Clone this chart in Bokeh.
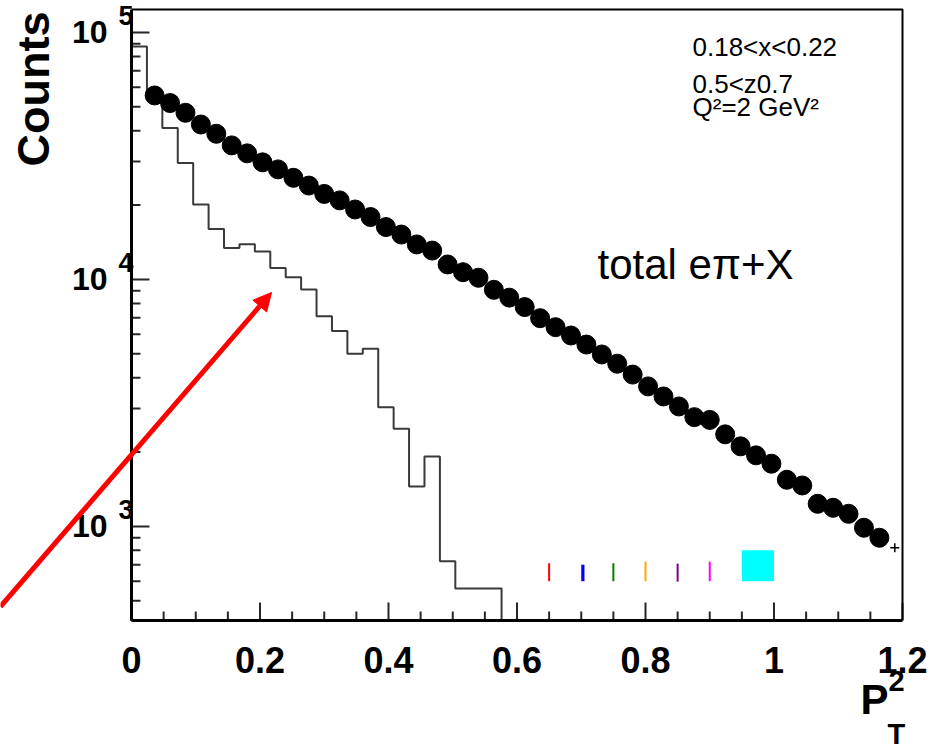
import math
import numpy as np
from bokeh.plotting import figure
from bokeh.models import Arrow, NormalHead, Range1d
from bokeh.core.properties import value
from bokeh.embed import file_html
from bokeh.resources import INLINE

# ---------------- data ----------------
bin_edges = np.round(np.linspace(0.0, 1.2, 51), 4)          # 50 bins of 0.024
hist_counts = [87700, 55000, 41000, 29600, 20100, 16000, 13400, 13900,
               12970, 11120, 10210, 9110, 7100, 6180, 5000, 5240,
               3040, 2487, 1452, 1920, 723, 560, 560, 560]   # later bins empty
point_bins = list(range(1, 49))
point_counts = [55600, 51800, 47300, 42400, 38900, 34900, 32400, 29800,
                27900, 25800, 24000, 22200, 20900, 19200, 17900, 16300,
                15200, 13860, 13090, 11500, 10700, 10160, 9080, 8440,
                7730, 6970, 6410, 5930, 5450, 4970, 4560, 4120,
                3690, 3360, 3060, 2770, 2700, 2360, 2110, 1940,
                1795, 1545, 1465, 1235, 1190, 1125, 988, 900]
last_bin = 49
last_count = 820

x_major = [0.0, 0.2, 0.4, 0.6, 0.8, 1.0, 1.2]
x_labels = ["0", "0.2", "0.4", "0.6", "0.8", "1", "1.2"]
x_minor = [0.05, 0.1, 0.15, 0.25, 0.3, 0.35, 0.45, 0.5, 0.55, 0.65, 0.7, 0.75,
           0.85, 0.9, 0.95, 1.05, 1.1, 1.15]
y_major = [1e3, 1e4, 1e5]
y_minor = [500, 600, 700, 800, 900, 2000, 3000, 4000, 5000, 6000, 7000, 8000,
           9000, 20000, 30000, 40000, 50000, 60000, 70000, 80000, 90000]

info_lines = ["0.18<x<0.22", "0.5<z0.7", "Q²=2 GeV²"]
main_label = "total eπ+X"

X_MIN, X_MAX = 0.0, 1.2
Y_MIN, Y_MAX = 416, 123900
W, H = 941, 752
LEFT, RIGHT, TOP, BOTTOM = 131, 902, 9, 620

FONT = value("Liberation Sans")

xs_per_px = (X_MAX - X_MIN) / (RIGHT - LEFT)
dec_per_px = (math.log10(Y_MAX) - math.log10(Y_MIN)) / (BOTTOM - TOP)
x_lo = X_MIN - LEFT * xs_per_px
x_hi = X_MAX + (W - RIGHT) * xs_per_px
y_lo = 10 ** (math.log10(Y_MIN) - (H - BOTTOM) * dec_per_px)
y_hi = 10 ** (math.log10(Y_MAX) + TOP * dec_per_px)


def base(offset_px, size_px):
    return offset_px - 0.42 * size_px


def up(y, n_px):
    return y * 10 ** (n_px * dec_per_px)


def shift_x(x, n_px):
    return x + n_px * xs_per_px


p = figure(width=W, height=H, y_axis_type="log",
           x_range=Range1d(x_lo, x_hi), y_range=Range1d(y_lo, y_hi),
           x_axis_location=None, y_axis_location=None,
           output_backend="svg", toolbar_location=None,
           min_border_left=0, min_border_right=0,
           min_border_top=0, min_border_bottom=0)
p.title.visible = False
p.xgrid.visible = False
p.ygrid.visible = False
p.outline_line_color = None
p.background_fill_color = "white"
p.border_fill_color = "white"

# ---------------- diagnostics (temporary) ----------------
p.quad(left=[shift_x(0.65, -1)], right=[shift_x(0.65, 1)], bottom=[600],
       top=[up(600, 18)], fill_color="red", line_color=None)
p.quad(left=[0.70], right=[0.705], bottom=[600], top=[700], fill_color="blue",
       line_color=None)
p.segment(x0=[0.75], y0=[600], x1=[0.75], y1=[up(600, 18)], line_color="green",
          line_width=2)
p.segment(x0=[0.80], y0=[600], x1=[0.80], y1=[720], line_color="orange", line_width=2)
p.scatter(x=[0.85], y=[650], marker="dash", size=18, angle=math.pi / 2,
          line_color="purple", line_width=2)
p.line([0.9, 0.9], [600, 720], line_color="magenta", line_width=2)
p.quad(left=[0.95], right=[1.0], bottom=[600], top=[800], fill_color="cyan",
       line_color=None)

# ---------------- ticks ----------------
tick_col = "#262626"
for ticks, n_px in ((x_major, 18), (x_minor, 9)):
    p.quad(left=[shift_x(t, -1) for t in ticks], right=[shift_x(t, 1) for t in ticks],
           bottom=[Y_MIN] * len(ticks), top=[up(Y_MIN, n_px)] * len(ticks),
           fill_color=tick_col, line_color=None)
for ticks, n_px in ((y_major, 18), (y_minor, 9)):
    p.quad(left=[X_MIN] * len(ticks), right=[shift_x(X_MIN, n_px)] * len(ticks),
           bottom=[up(t, -1) for t in ticks], top=[up(t, 1) for t in ticks],
           fill_color=tick_col, line_color=None)

# ---------------- histogram ----------------
hx = [bin_edges[0]]
hy = [Y_MIN]
for i, c in enumerate(hist_counts):
    hx += [bin_edges[i], bin_edges[i + 1]]
    hy += [c, c]
hx.append(bin_edges[len(hist_counts)])
hy.append(Y_MIN)
p.line(hx, hy, line_color="#3a3a3a", line_width=2)

# ---------------- points ----------------
centers = (bin_edges[:-1] + bin_edges[1:]) / 2
px = [float(centers[b]) for b in point_bins]
p.scatter(px, point_counts, size=19, fill_color="black", line_color="black")
p.scatter([float(centers[last_bin])], [last_count], marker="cross", size=9,
          line_color="black", line_width=1.5)

# ---------------- box ----------------
p.line([X_MIN, X_MAX], [Y_MIN, Y_MIN], line_color="black", line_width=3)
p.line([X_MIN, X_MIN], [Y_MIN, Y_MAX], line_color="black", line_width=3)
p.line([X_MIN, X_MAX, X_MAX], [Y_MAX, Y_MAX, Y_MIN], line_color="black", line_width=2)

# ---------------- labels ----------------
p.text(x=x_major, y=[Y_MIN] * len(x_major), text=x_labels,
       text_align="center", text_baseline="alphabetic", y_offset=base(55, 36),
       text_font=FONT, text_font_style="bold", text_font_size="36px",
       text_color="black")
p.text(x=[X_MIN] * len(y_major), y=y_major, text=["10"] * len(y_major),
       text_align="right", text_baseline="alphabetic", x_offset=-24,
       y_offset=base(13, 32),
       text_font=FONT, text_font_style="bold", text_font_size="32px",
       text_color="black")
p.text(x=[X_MIN] * len(y_major), y=y_major,
       text=[str(int(round(math.log10(t)))) for t in y_major],
       text_align="left", text_baseline="alphabetic", x_offset=-13,
       y_offset=base(-6, 27),
       text_font=FONT, text_font_style="bold", text_font_size="27px",
       text_color="black")
p.text(x=[X_MIN], y=[Y_MAX], text=["Counts"], angle=math.pi / 2,
       text_align="right", text_baseline="alphabetic", x_offset=-79 - 0.42 * 45,
       y_offset=2, text_font=FONT, text_font_style="bold", text_font_size="45px",
       text_color="black")
p.text(x=[X_MAX], y=[Y_MIN], text=["P"], text_align="right",
       text_baseline="alphabetic", x_offset=-14, y_offset=base(97, 42),
       text_font=FONT, text_font_style="bold", text_font_size="42px",
       text_color="black")
p.text(x=[X_MAX], y=[Y_MIN], text=["2"], text_align="left",
       text_baseline="alphabetic", x_offset=-14, y_offset=base(73, 29),
       text_font=FONT, text_font_style="bold", text_font_size="29px",
       text_color="black")
p.text(x=[X_MAX], y=[Y_MIN], text=["T"], text_align="left",
       text_baseline="alphabetic", x_offset=-15, y_offset=base(126, 29),
       text_font=FONT, text_font_style="bold", text_font_size="29px",
       text_color="black")
p.text(x=[X_MAX] * 3, y=[Y_MAX] * 3, text=info_lines, text_align="left",
       text_baseline="alphabetic", x_offset=-210,
       y_offset=[base(48, 26), base(85, 26), base(108, 26)],
       text_font=FONT, text_font_size="26px", text_color="black")
p.text(x=[X_MAX], y=[Y_MAX], text=[main_label], text_align="left",
       text_baseline="alphabetic", x_offset=-305, y_offset=base(273, 42),
       text_font=FONT, text_font_size="42px", text_color="black")

p.add_layout(Arrow(end=NormalHead(size=18, fill_color="red", line_color="red", line_width=1),
                   x_start=-0.204, y_start=474, x_end=0.218, y_end=8860,
                   line_color="red", line_width=5))

open("out.html", "w").write(file_html(p, INLINE))
